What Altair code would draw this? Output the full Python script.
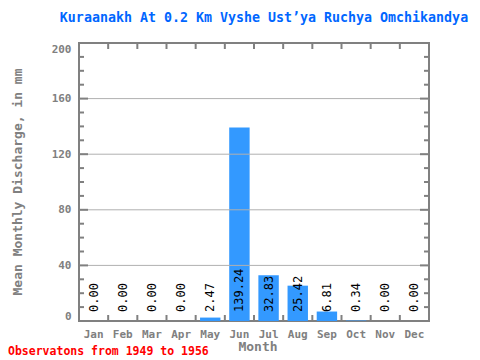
import altair as alt
import pandas as pd

months = ["Jan", "Feb", "Mar", "Apr", "May", "Jun", "Jul", "Aug", "Sep", "Oct", "Nov", "Dec"]
values = [0.00, 0.00, 0.00, 0.00, 2.47, 139.24, 32.83, 25.42, 6.81, 0.34, 0.00, 0.00]
y_labels = [0, 40, 80, 120, 160, 200]
grid_values = [40, 80, 120, 160]
minor_ticks = [v for v in range(10, 200, 10) if v % 40 != 0]
major_ticks = [40, 80, 120, 160]

title_text = "Kuraanakh At 0.2 Km Vyshe Ust\u2019ya Ruchya Omchikandya"
y_title = "Mean Monthly Discharge, in mm"
x_title = "Month"
footer = "Observatons from 1949 to 1956"

W, H = 350, 278
STEP = W / 12
FONT = "DejaVu Sans Mono"
GRAY = "#808080"

df = pd.DataFrame({"month": months, "value": values})
df["label"] = [f"{v:.2f}" for v in values]

yscale = alt.Scale(domain=[0, 200], nice=False)
xscale = alt.Scale(domain=months, paddingInner=0.3, paddingOuter=0.15)

xenc = alt.X("month:N", scale=xscale, sort=months,
             axis=alt.Axis(title=None, ticks=False, domain=False, labelAngle=0,
                           labelFont=FONT, labelFontSize=11, labelFontWeight="bold",
                           labelColor=GRAY, labelPadding=7))
yenc = alt.Y("value:Q", scale=yscale,
             axis=alt.Axis(title=None, values=y_labels, grid=False, ticks=False, domain=False,
                           labelFont=FONT, labelFontSize=11, labelFontWeight="bold",
                           labelColor=GRAY, labelPadding=8, labelFlush=True))

bars = alt.Chart(df).mark_bar(color="#3399ff").encode(x=xenc, y=yenc)

grid = alt.Chart(pd.DataFrame({"g": grid_values})).mark_rule(color="#b0b0b0", strokeWidth=1).encode(
    y=alt.Y("g:Q", scale=yscale), x=alt.value(0), x2=alt.value(W))

tdf = pd.DataFrame({"t": minor_ticks})
mdf = pd.DataFrame({"t": major_ticks})
lminor = alt.Chart(tdf).mark_rule(color=GRAY, strokeWidth=2).encode(
    y=alt.Y("t:Q", scale=yscale), x=alt.value(0), x2=alt.value(5))
rminor = alt.Chart(tdf).mark_rule(color=GRAY, strokeWidth=2).encode(
    y=alt.Y("t:Q", scale=yscale), x=alt.value(W), x2=alt.value(W - 5))
lmajor = alt.Chart(mdf).mark_rule(color=GRAY, strokeWidth=2).encode(
    y=alt.Y("t:Q", scale=yscale), x=alt.value(0), x2=alt.value(9))
rmajor = alt.Chart(mdf).mark_rule(color=GRAY, strokeWidth=2).encode(
    y=alt.Y("t:Q", scale=yscale), x=alt.value(W), x2=alt.value(W - 9))

mdf2 = pd.DataFrame({"month": months})
btm = alt.Chart(mdf2).mark_rule(color=GRAY, strokeWidth=2, xOffset=-STEP / 2).encode(
    x=alt.X("month:N", scale=xscale, sort=months), y=alt.value(H), y2=alt.value(H - 6))
top = alt.Chart(mdf2).mark_rule(color=GRAY, strokeWidth=2, xOffset=-STEP / 2).encode(
    x=alt.X("month:N", scale=xscale, sort=months), y=alt.value(0), y2=alt.value(6))

labels = alt.Chart(df).mark_text(font=FONT, fontSize=12, angle=270, align="left",
                                 baseline="middle", color="black", dx=1).encode(
    x=alt.X("month:N", scale=xscale, sort=months), y=alt.value(H - 8), text="label:N")

one = pd.DataFrame({"a": [0]})
t_title = alt.Chart(one).mark_text(font=FONT, fontSize=13.3, fontWeight="bold", color="#0066ff",
                                   align="center", baseline="middle", text=title_text).encode(
    x=alt.value(185), y=alt.value(-25))
t_y = alt.Chart(one).mark_text(font=FONT, fontSize=13, fontWeight="bold", color=GRAY, angle=270,
                               align="center", baseline="middle", text=y_title).encode(
    x=alt.value(-61), y=alt.value(139))
t_x = alt.Chart(one).mark_text(font=FONT, fontSize=13, fontWeight="bold", color=GRAY,
                               align="center", baseline="middle", text=x_title).encode(
    x=alt.value(179), y=alt.value(304))
t_f = alt.Chart(one).mark_text(font=FONT, fontSize=11.5, fontWeight="bold", color="red",
                               align="left", baseline="middle", text=footer).encode(
    x=alt.value(-71), y=alt.value(309))

chart = alt.layer(bars, grid, lminor, rminor, lmajor, rmajor, btm, top, labels,
                  t_title, t_y, t_x, t_f).properties(
    width=W, height=H, autosize=alt.AutoSizeParams(type="none"),
    padding={"left": 71, "top": 35, "right": 40, "bottom": 40}
).configure_view(stroke=GRAY, strokeWidth=2)

chart.save("out.html", embed_options={"renderer": "svg", "actions": False})
